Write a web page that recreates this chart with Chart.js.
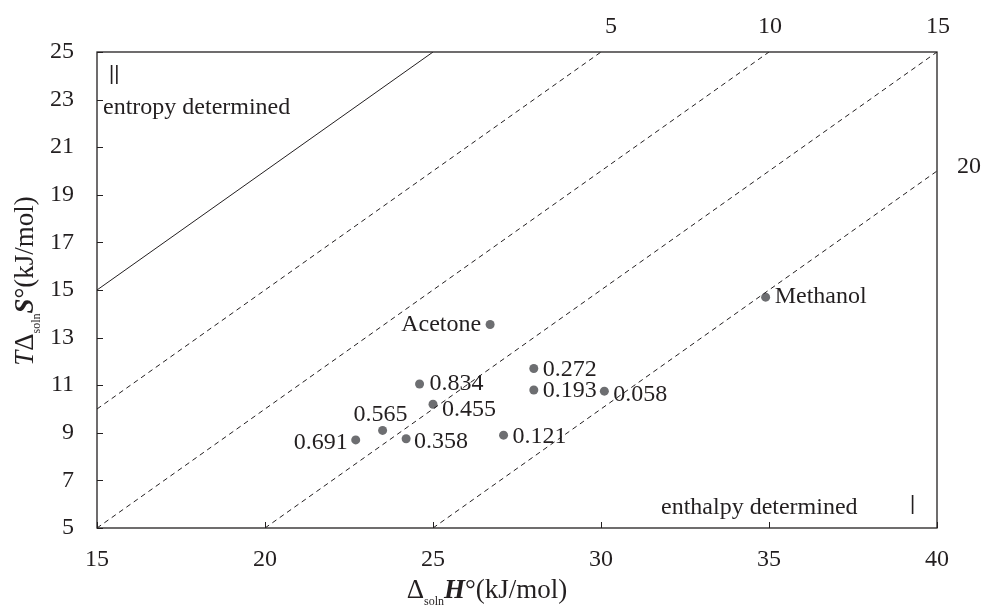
<!DOCTYPE html>
<html>
<head>
<meta charset="utf-8">
<script src="https://cdn.jsdelivr.net/npm/chart.js@4.4.0/dist/chart.umd.min.js"></script>
<style>
  body { margin: 0; background: #fff; }
  #wrap { width: 985px; height: 616px; position: relative; }
</style>
</head>
<body>
<div id="wrap"><canvas id="myChart"></canvas></div>
<script>
'use strict';

// data
const pointNames = ['Acetone', 'Methanol', '0.834', '0.455', '0.565', '0.691', '0.358', '0.272', '0.193', '0.058', '0.121'];
const enthalpy = [26.7, 34.9, 24.6, 25.0, 23.5, 22.7, 24.2, 28.0, 28.0, 30.1, 27.1];
const entropyTerm = [13.55, 14.7, 11.05, 10.2, 9.1, 8.7, 8.75, 11.7, 10.8, 10.75, 8.9];

const xTicks = [15, 20, 25, 30, 35, 40];
const yTicks = [5, 7, 9, 11, 13, 15, 17, 19, 21, 23, 25];

// reference lines  T dS = dH - offset
const lineOffsets = [0, 5, 10, 15, 20];
const lineLabels = ['', '5', '10', '15', '20'];

const xMin = 15, xMax = 40, yMin = 5, yMax = 25;

// where each point label sits relative to its dot (style only)
const labelPlace = {
  'Acetone': ['right', -9, 0],
  'Methanol': ['left', 9, 0],
  '0.834': ['left', 10, 0],
  '0.455': ['left', 9, 5],
  '0.565': ['center', -2, -16],
  '0.691': ['right', -8, 3],
  '0.358': ['left', 8, 3],
  '0.272': ['left', 9, 1],
  '0.193': ['left', 9, 1],
  '0.058': ['left', 9, 4],
  '0.121': ['left', 9, 2]
};

const serif = '"Liberation Serif", "DejaVu Serif", serif';
const textColor = '#231f20';
const fontSize = 24;

let scatterPoints = [];
for (let i = 0; i < enthalpy.length; i++) {
  scatterPoints.push({ x: enthalpy[i], y: entropyTerm[i] });
}

let datasets = [];
for (let i = 0; i < lineOffsets.length; i++) {
  let c = lineOffsets[i];
  let x0 = Math.max(xMin, yMin + c);
  let x1 = Math.min(xMax, yMax + c);
  datasets.push({
    type: 'line',
    data: [{ x: x0, y: x0 - c }, { x: x1, y: x1 - c }],
    borderColor: '#231f20',
    borderWidth: 1,
    borderDash: c === 0 ? [] : [5, 4],
    pointRadius: 0,
    fill: false
  });
}
datasets.push({
  type: 'scatter',
  data: scatterPoints,
  backgroundColor: '#6d6e71',
  borderWidth: 0,
  pointRadius: 4.5
});

function drawRuns(ctx, runs, x, y) {
  // runs drawn one after another, centered on x
  let total = 0;
  for (let r of runs) {
    ctx.font = r.font;
    total += ctx.measureText(r.t).width;
  }
  let cx = x - total / 2;
  ctx.textAlign = 'left';
  ctx.textBaseline = 'alphabetic';
  for (let r of runs) {
    ctx.font = r.font;
    ctx.fillText(r.t, cx, y + (r.dy || 0));
    cx += ctx.measureText(r.t).width;
  }
}

const decorPlugin = {
  id: 'decor',
  afterDatasetsDraw(chart) {
    const ctx = chart.ctx;
    const xs = chart.scales.x;
    const ys = chart.scales.y;
    const area = chart.chartArea;
    ctx.save();

    // frame
    ctx.strokeStyle = '#231f20';
    ctx.lineWidth = 1.3;
    ctx.strokeRect(area.left, area.top, area.right - area.left, area.bottom - area.top);

    // inward tick marks
    ctx.lineWidth = 1;
    ctx.beginPath();
    for (let v of xTicks) {
      let px = Math.round(xs.getPixelForValue(v)) + 0.5;
      ctx.moveTo(px, area.bottom);
      ctx.lineTo(px, area.bottom - 6);
    }
    for (let v of yTicks) {
      let py = Math.round(ys.getPixelForValue(v)) + 0.5;
      ctx.moveTo(area.left, py);
      ctx.lineTo(area.left + 6, py);
    }
    ctx.stroke();

    ctx.fillStyle = textColor;
    ctx.font = fontSize + 'px ' + serif;
    ctx.textBaseline = 'middle';

    // point labels
    for (let i = 0; i < pointNames.length; i++) {
      let place = labelPlace[pointNames[i]];
      let px = xs.getPixelForValue(enthalpy[i]);
      let py = ys.getPixelForValue(entropyTerm[i]);
      ctx.textAlign = place[0];
      ctx.fillText(pointNames[i], px + place[1], py + place[2]);
    }

    // line labels
    for (let i = 0; i < lineOffsets.length; i++) {
      if (!lineLabels[i]) continue;
      let c = lineOffsets[i];
      let x1 = Math.min(xMax, yMax + c);
      let px = xs.getPixelForValue(x1);
      let py = ys.getPixelForValue(x1 - c);
      if (x1 - c >= yMax) {
        ctx.textAlign = 'center';
        ctx.fillText(lineLabels[i], px + (c === 5 ? 10 : 1), area.top - 25);
      } else {
        ctx.textAlign = 'left';
        ctx.fillText(lineLabels[i], area.right + 20, py - 4);
      }
    }

    // region notes
    ctx.textAlign = 'left';
    ctx.fillText('entropy determined', area.left + 6, area.top + 56);
    ctx.fillText('enthalpy determined', area.right - 276, area.bottom - 20);
    ctx.font = '20px "Liberation Sans", sans-serif';
    ctx.fillText('||', area.left + 12, area.top + 22);
    ctx.fillText('|', area.right - 27, area.bottom - 24);

    // axis titles
    const base = '27px ' + serif;
    const sub = '12px ' + serif;
    const bi = 'italic bold 27px ' + serif;
    const it = 'italic 27px ' + serif;
    drawRuns(ctx, [
      { t: 'Δ', font: base },
      { t: 'soln', font: sub, dy: 7 },
      { t: 'H', font: bi },
      { t: '°(kJ/mol)', font: base }
    ], 487, 598);

    ctx.translate(33, 281);
    ctx.rotate(-Math.PI / 2);
    drawRuns(ctx, [
      { t: 'T', font: it },
      { t: 'Δ', font: base },
      { t: 'soln', font: sub, dy: 7 },
      { t: 'S', font: bi },
      { t: '°(kJ/mol)', font: base }
    ], 0, 0);

    ctx.restore();
  }
};

const config = {
  type: 'scatter',
  data: { datasets: datasets },
  options: {
    responsive: true,
    maintainAspectRatio: false,
    animation: false,
    layout: { padding: { left: 0, right: 48, top: 52, bottom: 0 } },
    plugins: {
      legend: { display: false },
      tooltip: { enabled: false }
    },
    scales: {
      x: {
        type: 'linear',
        min: xMin,
        max: xMax,
        afterBuildTicks: (scale) => { scale.ticks = xTicks.map(v => ({ value: v })); },
        afterFit: (scale) => { scale.height = 88; },
        grid: { display: false },
        border: { display: false },
        ticks: { color: textColor, font: { family: serif, size: fontSize }, padding: 9, maxRotation: 0 }
      },
      y: {
        type: 'linear',
        min: yMin,
        max: yMax,
        afterBuildTicks: (scale) => { scale.ticks = yTicks.map(v => ({ value: v })); },
        afterFit: (scale) => { scale.width = 97; },
        grid: { display: false },
        border: { display: false },
        ticks: { color: textColor, font: { family: serif, size: fontSize }, padding: 15 }
      }
    }
  },
  plugins: [decorPlugin]
};

const ctx = document.getElementById('myChart').getContext('2d');
const myChart = new Chart(ctx, config);
</script>
</body>
</html>
